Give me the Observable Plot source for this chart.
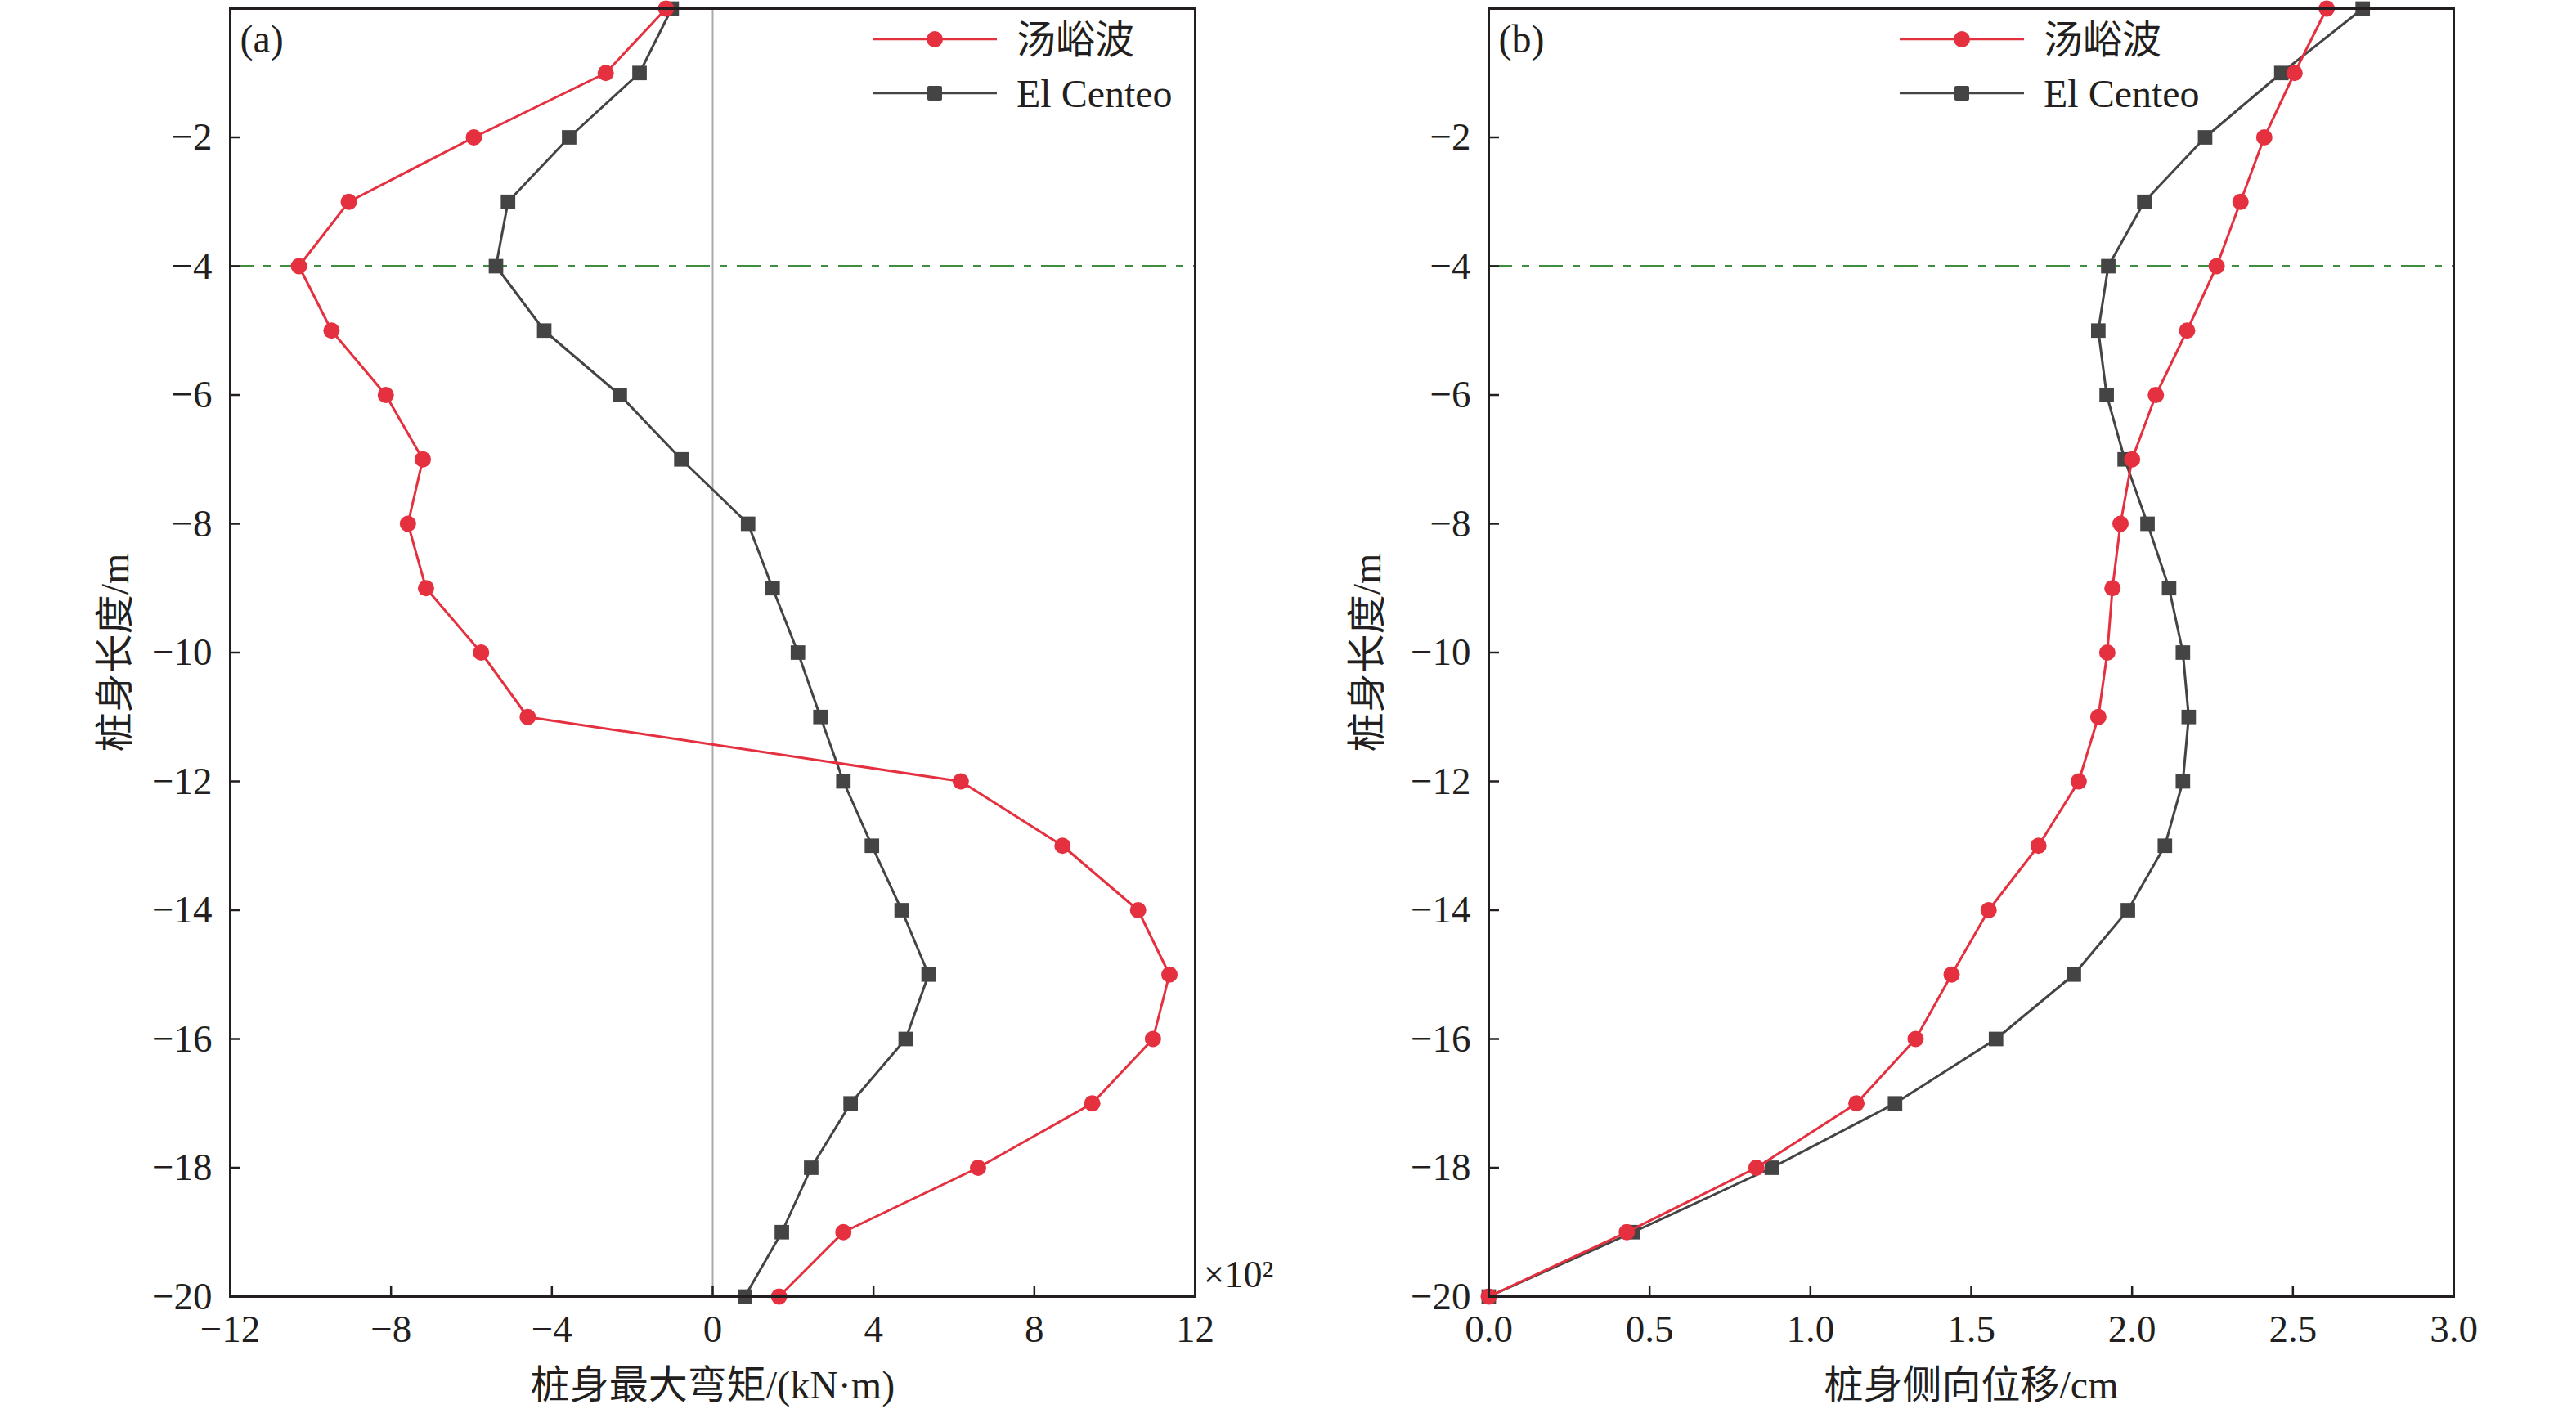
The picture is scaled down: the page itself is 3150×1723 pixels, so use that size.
<!DOCTYPE html>
<html><head><meta charset="utf-8">
<script src="https://cdn.jsdelivr.net/npm/d3@7"></script>
<script src="https://cdn.jsdelivr.net/npm/@observablehq/plot@0.6"></script>
<style>
body{margin:0;background:#fff;width:3150px;height:1723px;overflow:hidden;}
#wrap{position:relative;width:3150px;height:1723px;}
.panel{position:absolute;top:0;}
</style></head><body><div id="wrap"></div>
<script>
// depth along pile (m)
const depth = [0,-1,-2,-3,-4,-5,-6,-7,-8,-9,-10,-11,-12,-13,-14,-15,-16,-17,-18,-19,-20];
// (a) max bending moment, ×10^2 kN·m
const momentTY = [-1.16,-2.66,-5.94,-9.05,-10.29,-9.48,-8.13,-7.21,-7.58,-7.13,-5.76,-4.60,6.17,8.70,10.58,11.36,10.95,9.44,6.60,3.25,1.65];
const momentEC = [-1.02,-1.82,-3.57,-5.09,-5.39,-4.19,-2.31,-0.78,0.88,1.49,2.12,2.68,3.25,3.96,4.70,5.37,4.80,3.43,2.45,1.72,0.80];
// (b) lateral displacement, cm
const dispTY = [2.605,2.505,2.411,2.337,2.263,2.171,2.074,2.000,1.964,1.939,1.923,1.895,1.834,1.709,1.554,1.439,1.327,1.143,0.832,0.429,0.0];
const dispEC = [2.717,2.464,2.227,2.038,1.926,1.895,1.921,1.977,2.048,2.115,2.158,2.176,2.158,2.102,1.987,1.819,1.577,1.263,0.880,0.449,0.0];
const seriesNames = ["汤峪波","El Centeo"];
const yTicks = [-2,-4,-6,-8,-10,-12,-14,-16,-18,-20];
const xTicksA = [-12,-8,-4,0,4,8,12];
const xTicksB = [0,0.5,1,1.5,2,2.5,3];
const refDepth = [-4];
const zeroLine = [0];
const yTitle = "桩身长度/m";
const xTitleA = "桩身最大弯矩/(kN·m)";
const xTitleB = "桩身侧向位移/cm";

const FONT = '"Liberation Serif","Times New Roman","Noto Sans CJK SC",serif';
const RED = "#e4303f", DARK = "#444444", GREEN = "#3f8e3f", INK = "#231f20";
const minus = d => d < 0 ? "\u2212" + Math.abs(d) : String(d);

function makePanel({tyVals, ecVals, xDomain, xTicks, xFormat, xTitle, tag, ml, mr, yTitleDx, legendX, extra, note}) {
  const W = 1575, H = 1723, mt = 10, mb = 138;
  const ty = depth.map((d, i) => ({y: d, x: tyVals[i]}));
  const ec = depth.map((d, i) => ({y: d, x: ecVals[i]}));
  const yLen = 13 * 20 / (H - mt - mb);
  const xLen = 13 * (xDomain[1] - xDomain[0]) / (W - ml - mr);
  const marks = [
    ...extra,
    Plot.ruleY(refDepth, {y: d => d, stroke: GREEN, strokeWidth: 3, strokeDasharray: "29,12,9,12"}),
    Plot.ruleX(xTicks, {x: d => d, y1: -20, y2: -20 + yLen, stroke: INK, strokeWidth: 2.5}),
    Plot.ruleY(yTicks, {y: d => d, x1: xDomain[0], x2: xDomain[0] + xLen, stroke: INK, strokeWidth: 2.5}),
    Plot.axisX({ticks: xTicks, tickSize: 0, tickPadding: 22, tickFormat: xFormat, label: null, fontSize: 47}),
    Plot.axisY({ticks: yTicks, tickSize: 0, tickPadding: 22, tickFormat: minus, label: null, fontSize: 47}),
    Plot.line(ec, {x: "x", y: "y", stroke: DARK, strokeWidth: 3}),
    Plot.dot(ec, {x: "x", y: "y", symbol: "square", r: 10, fill: DARK, stroke: null}),
    Plot.line(ty, {x: "x", y: "y", stroke: RED, strokeWidth: 3}),
    Plot.dot(ty, {x: "x", y: "y", symbol: "circle", r: 10, fill: RED, stroke: null}),
    Plot.frame({stroke: INK, strokeWidth: 3}),
    Plot.text([xTitle], {text: d => d, frameAnchor: "bottom", dy: 109, lineAnchor: "middle", textAnchor: "middle", fontSize: 48, fill: INK}),
    Plot.text([yTitle], {text: d => d, frameAnchor: "left", dx: yTitleDx, rotate: -90, lineAnchor: "middle", textAnchor: "middle", fontSize: 48, fill: INK}),
    Plot.text([tag], {text: d => d, frameAnchor: "top-left", dx: 12, dy: 38, lineAnchor: "middle", textAnchor: "start", fontSize: 48, fill: INK})
  ];
  if (note) marks.push(Plot.text([note], {text: d => d, frameAnchor: "bottom-right", dx: 10, dy: -26, lineAnchor: "middle", textAnchor: "start", fontSize: 46, fill: INK}));
  const svg = Plot.plot({
    width: W, height: H, marginLeft: ml, marginRight: mr, marginTop: mt, marginBottom: mb,
    style: {fontFamily: FONT, fontSize: "46px", color: INK, background: "transparent", overflow: "visible"},
    x: {domain: xDomain}, y: {domain: [-20, 0]},
    marks
  });
  // legend
  const g = d3.select(svg).append("g").attr("font-family", FONT).attr("font-size", 48)
    .attr("fill", INK).attr("text-anchor", "start");
  const rows = [{name: seriesNames[0], color: RED, shape: "circle", y: 48}, {name: seriesNames[1], color: DARK, shape: "square", y: 114}];
  for (const r of rows) {
    g.append("line").attr("x1", legendX).attr("x2", legendX + 152).attr("y1", r.y).attr("y2", r.y)
      .attr("stroke", r.color).attr("stroke-width", 2.5);
    if (r.shape === "circle") g.append("circle").attr("cx", legendX + 76).attr("cy", r.y).attr("r", 10).attr("fill", r.color);
    else g.append("rect").attr("x", legendX + 76 - 9).attr("y", r.y - 9).attr("width", 18).attr("height", 18).attr("rx", 2).attr("fill", r.color);
    g.append("text").attr("x", legendX + 176).attr("y", r.y).attr("dy", "0.35em").attr("text-anchor", "start").text(r.name);
  }
  return svg;
}

const wrap = document.getElementById("wrap");
const a = makePanel({
  tyVals: momentTY, ecVals: momentEC, xDomain: [-12, 12], xTicks: xTicksA, xFormat: minus,
  xTitle: xTitleA, tag: "(a)", ml: 281, mr: 114, yTitleDx: -140, legendX: 1067,
  extra: [Plot.ruleX(zeroLine, {x: d => d, stroke: "#aaaaaa", strokeWidth: 2})],
  note: "×10²"
});
a.classList.add("panel"); a.style.left = "0px";
const b = makePanel({
  tyVals: dispTY, ecVals: dispEC, xDomain: [0, 3], xTicks: xTicksB, xFormat: d => d.toFixed(1),
  xTitle: xTitleB, tag: "(b)", ml: 245, mr: 150, yTitleDx: -148, legendX: 748,
  extra: [], note: null
});
b.classList.add("panel"); b.style.left = "1575px";
wrap.appendChild(a); wrap.appendChild(b);
</script></body></html>
